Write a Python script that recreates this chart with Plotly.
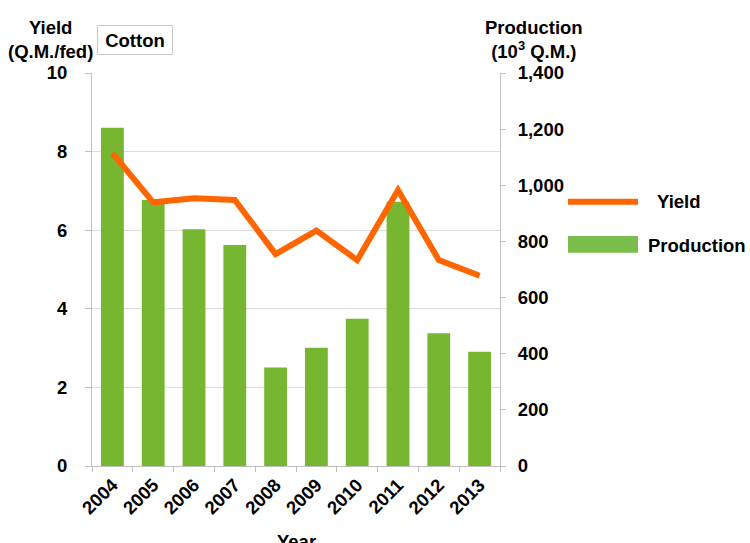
import plotly.graph_objects as go

# Cotton yield and production by year
years = ["2004", "2005", "2006", "2007", "2008", "2009", "2010", "2011", "2012", "2013"]
production = [1205, 948, 843, 787, 351, 421, 525, 941, 473, 407]   # 10^3 Q.M.
yield_fed = [7.96, 6.71, 6.81, 6.77, 5.39, 5.99, 5.24, 7.02, 5.24, 4.84]  # Q.M./fed

GREEN = "#76B630"
ORANGE = "#FF6600"
AXIS = "#BFBFBF"
GRID = "#DCDCDC"
FONT = "Liberation Sans, Arial, sans-serif"
FS = 18.5

W, H = 750, 543
L, R, T, B = 92, 250, 73, 77
PW, PH = W - L - R, H - T - B


def px(x):
    return (x - L) / PW


def py(y):
    return (H - B - y) / PH


fig = go.Figure()
fig.add_trace(go.Bar(
    x=years, y=production, name="Production",
    marker=dict(color=GREEN, line=dict(width=0)),
    yaxis="y", showlegend=False,
))
fig.add_trace(go.Scatter(
    x=years, y=yield_fed, name="Yield", mode="lines",
    line=dict(color=ORANGE, width=6),
    yaxis="y2", showlegend=False,
))

tickfont = dict(family=FONT, size=FS, color="#000000", weight="bold")

fig.update_layout(
    width=W, height=H,
    margin=dict(l=L, r=R, t=T, b=B),
    paper_bgcolor="white", plot_bgcolor="white",
    font=dict(family=FONT, size=FS, color="#000000", weight="bold"),
    bargap=0.44,
    xaxis=dict(
        type="category", tickangle=-45, tickfont=tickfont,
        showline=True, linecolor=AXIS, linewidth=1,
        ticks="outside", ticklen=5, tickcolor=AXIS, tickson="boundaries",
        showgrid=False,
    ),
    yaxis=dict(
        side="right", range=[0, 1400], dtick=200, tickformat=",",
        tickfont=tickfont, showgrid=False, zeroline=False,
        showline=True, linecolor=AXIS, linewidth=1,
        ticks="outside", ticklen=5, tickcolor=AXIS, ticklabelstandoff=8,
    ),
    yaxis2=dict(
        overlaying="y", side="left", range=[0, 10], dtick=2,
        tickfont=tickfont, showgrid=True, gridcolor=GRID, gridwidth=1,
        zeroline=False, showline=True, linecolor=AXIS, linewidth=1,
        ticks="outside", ticklen=6, tickcolor=AXIS, ticklabelstandoff=14,
    ),
    showlegend=False,
)

annotations = [
    dict(text="Yield<br>(Q.M./fed)", x=px(50), y=py(39), xanchor="center", yanchor="middle"),
    dict(text="Production<br>(10<sup>3</sup> Q.M.)", x=px(534), y=py(39), xanchor="center", yanchor="middle"),
    dict(text="Cotton", x=px(135), y=py(40), xanchor="center", yanchor="middle",
         width=74, height=28, borderpad=0, bordercolor="#C8C8C8", borderwidth=1, bgcolor="white"),
    dict(text="Year", x=0.5, y=py(541), xanchor="center", yanchor="middle"),
    dict(text="Yield", x=px(655), y=py(201), xanchor="left", yanchor="middle"),
    dict(text="Production", x=px(646), y=py(245), xanchor="left", yanchor="middle"),
]
for a in annotations:
    a.update(xref="paper", yref="paper", showarrow=False)
fig.update_layout(annotations=annotations)

# Legend keys
fig.add_shape(type="line", xref="paper", yref="paper",
              x0=px(568), x1=px(638), y0=py(201.7), y1=py(201.7),
              line=dict(color=ORANGE, width=6))
fig.add_shape(type="rect", xref="paper", yref="paper",
              x0=px(568), x1=px(638), y0=py(252.7), y1=py(236),
              line=dict(width=0), fillcolor="#7BBD4C")

fig.write_html("out.html")
